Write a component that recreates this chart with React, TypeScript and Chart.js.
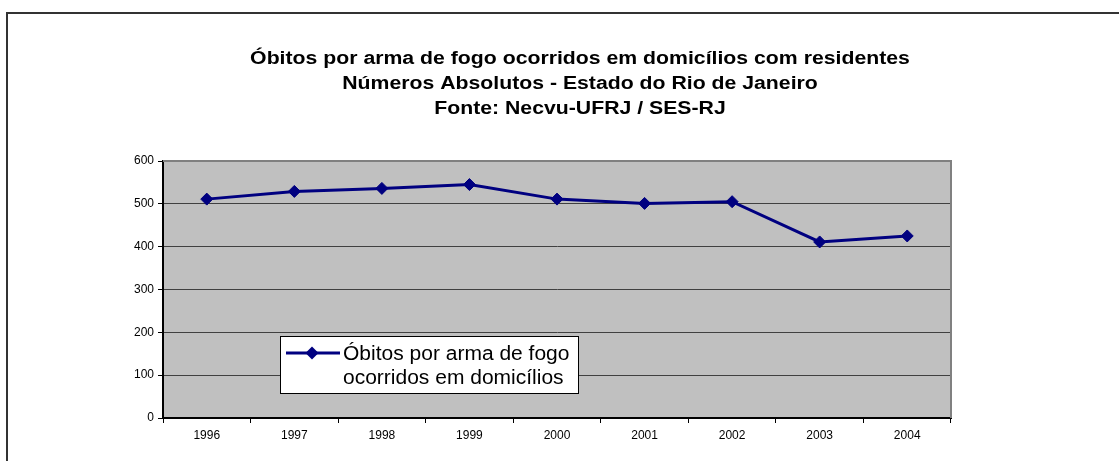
import React, { useEffect, useRef } from "react";
import { Chart, registerables } from "chart.js";

Chart.register(...registerables);

const categories = ["1996", "1997", "1998", "1999", "2000", "2001", "2002", "2003", "2004"];
const deaths = [511, 529, 536, 545, 511, 501, 505, 411, 425];
const seriesLabel = ["Óbitos por arma de fogo", "ocorridos em domicílios"];
const titleLines = [
  "Óbitos por arma de fogo ocorridos em domicílios com residentes",
  "Números Absolutos - Estado do Rio de Janeiro",
  "Fonte: Necvu-UFRJ / SES-RJ",
];
const yTicks = [0, 100, 200, 300, 400, 500, 600];

const FONT = "'Liberation Sans', Arial, sans-serif";

const framePlugin = {
  id: "frame",
  beforeDraw(chart: any) {
    const { ctx, chartArea: a } = chart;
    ctx.save();
    ctx.fillStyle = "#ffffff";
    ctx.fillRect(0, 0, chart.width, chart.height);
    // outer frame (top and left)
    ctx.strokeStyle = "#333333";
    ctx.lineWidth = 2;
    ctx.beginPath();
    ctx.moveTo(7, chart.height);
    ctx.lineTo(7, 13);
    ctx.lineTo(chart.width, 13);
    ctx.stroke();
    // plot background
    ctx.fillStyle = "#C0C0C0";
    ctx.fillRect(a.left, a.top, a.right - a.left, a.bottom - a.top);
    ctx.restore();
  },
  afterDatasetsDraw(chart: any) {
    const { ctx, chartArea: a } = chart;
    ctx.save();
    ctx.strokeStyle = "#808080";
    ctx.lineWidth = 2;
    ctx.beginPath();
    ctx.moveTo(a.left, a.top);
    ctx.lineTo(a.right, a.top);
    ctx.lineTo(a.right, a.bottom);
    ctx.stroke();
    ctx.restore();
  },
  afterDraw(chart: any) {
    const { ctx } = chart;
    ctx.save();
    // title (horizontally stretched like the original)
    ctx.fillStyle = "#000000";
    ctx.font = `bold 18px ${FONT}`;
    ctx.textAlign = "center";
    ctx.textBaseline = "alphabetic";
    titleLines.forEach((t, i) => {
      ctx.save();
      ctx.translate(580, 64 + i * 25);
      ctx.scale(1.18, 1);
      ctx.fillText(t, 0, 0);
      ctx.restore();
    });
    // legend
    const lx = 280, ly = 336, lw = 298, lh = 57;
    ctx.fillStyle = "#ffffff";
    ctx.fillRect(lx, ly, lw, lh);
    ctx.strokeStyle = "#000000";
    ctx.lineWidth = 1;
    ctx.strokeRect(lx + 0.5, ly + 0.5, lw, lh);
    const sy = 353;
    ctx.strokeStyle = "#000080";
    ctx.lineWidth = 3;
    ctx.beginPath();
    ctx.moveTo(286, sy);
    ctx.lineTo(340, sy);
    ctx.stroke();
    ctx.fillStyle = "#000080";
    ctx.beginPath();
    const cx = 312, r = 6.5;
    ctx.moveTo(cx, sy - r);
    ctx.lineTo(cx + r, sy);
    ctx.lineTo(cx, sy + r);
    ctx.lineTo(cx - r, sy);
    ctx.closePath();
    ctx.fill();
    ctx.fillStyle = "#000000";
    ctx.font = `20px ${FONT}`;
    ctx.textAlign = "left";
    ctx.textBaseline = "alphabetic";
    seriesLabel.forEach((t, i) => {
      ctx.save();
      ctx.translate(343, 360 + i * 24);
      ctx.scale(1.05, 1);
      ctx.fillText(t, 0, 0);
      ctx.restore();
    });
    ctx.restore();
  },
};

export default function App() {
  const ref = useRef<HTMLCanvasElement | null>(null);
  useEffect(() => {
    if (!ref.current) return;
    const chart = new Chart(ref.current, {
      type: "line",
      data: {
        labels: categories,
        datasets: [
          {
            label: seriesLabel.join(" "),
            data: deaths,
            borderColor: "#000080",
            backgroundColor: "#000080",
            borderWidth: 3,
            pointStyle: "rectRot",
            pointRadius: 6,
            pointHoverRadius: 6,
            pointBackgroundColor: "#000080",
            pointBorderColor: "#000080",
            pointBorderWidth: 1,
            tension: 0,
          },
        ],
      },
      options: {
        responsive: false,
        animation: false,
        events: [],
        layout: { padding: { left: 0, right: 168, top: 161, bottom: 0 } },
        plugins: {
          legend: { display: false },
          title: { display: false },
          tooltip: { enabled: false },
        },
        scales: {
          x: {
            offset: true,
            grid: {
              offset: true,
              drawOnChartArea: false,
              drawTicks: true,
              tickLength: 5,
              tickColor: "#000000",
              tickWidth: 1,
            },
            border: { display: true, color: "#000000", width: 2 },
            ticks: {
              color: "#000000",
              font: { family: FONT, size: 12 },
              padding: 5,
              maxRotation: 0,
              autoSkip: false,
            },
            afterFit(scale: any) {
              scale.height = 43;
            },
          },
          y: {
            min: 0,
            max: 600,
            afterBuildTicks(scale: any) {
              scale.ticks = yTicks.map((v) => ({ value: v }));
            },
            grid: {
              color: (c: any) => (c.tick && c.tick.value === 0 ? "rgba(0,0,0,0)" : "#404040"),
              lineWidth: 1,
              drawTicks: true,
              tickLength: 5,
              tickColor: "#000000",
            },
            border: { display: true, color: "#000000", width: 2 },
            ticks: {
              color: "#000000",
              font: { family: FONT, size: 12 },
              padding: 4,
            },
            afterFit(scale: any) {
              scale.width = 163;
            },
          },
        },
      },
      plugins: [framePlugin],
    });
    return () => chart.destroy();
  }, []);
  return (
    <div style={{ position: "fixed", left: 0, top: 0, width: 1119, height: 461 }}>
      <canvas ref={ref} width={1119} height={461} style={{ display: "block" }} />
    </div>
  );
}
